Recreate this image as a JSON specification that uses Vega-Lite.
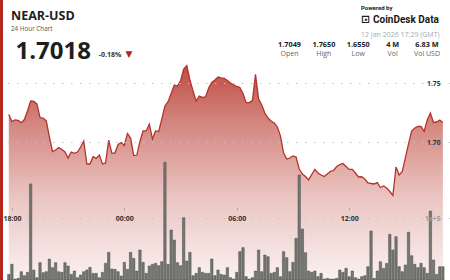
{
  "$schema": "https://vega.github.io/schema/vega-lite/v6.json",
  "width": 447,
  "height": 280,
  "autosize": {"type": "none"},
  "padding": {"left": 3, "top": 0, "right": 0, "bottom": 0},
  "background": "#b3261e",
  "config": {"view": {"fill": "white", "stroke": null}, "font": "Open Sans"},
  "title": {
    "text": "NEAR-USD",
    "subtitle": "24 Hour Chart",
    "anchor": "start",
    "frame": "group",
    "orient": "top",
    "offset": -32.2,
    "dx": 8,
    "font": "Open Sans",
    "fontSize": 12.5,
    "fontWeight": "bold",
    "color": "#1e1e1e",
    "subtitleFont": "Open Sans",
    "subtitleFontSize": 6.3,
    "subtitleColor": "#555555",
    "subtitlePadding": 3
  },
  "datasets": {
    "series": [
      {"t":"2026-01-11T17:50","price":1.7236,"volume":9200},
      {"t":"2026-01-11T18:00","price":1.7176,"volume":25500},
      {"t":"2026-01-11T18:10","price":1.7189,"volume":1500},
      {"t":"2026-01-11T18:20","price":1.7185,"volume":2700},
      {"t":"2026-01-11T18:30","price":1.7166,"volume":13500},
      {"t":"2026-01-11T18:40","price":1.7193,"volume":7000},
      {"t":"2026-01-11T18:50","price":1.7265,"volume":12500},
      {"t":"2026-01-11T19:00","price":1.7350,"volume":156100},
      {"t":"2026-01-11T19:10","price":1.7346,"volume":16300},
      {"t":"2026-01-11T19:20","price":1.7325,"volume":3800},
      {"t":"2026-01-11T19:30","price":1.7210,"volume":28200},
      {"t":"2026-01-11T19:40","price":1.7206,"volume":11900},
      {"t":"2026-01-11T19:50","price":1.7181,"volume":13500},
      {"t":"2026-01-11T20:00","price":1.7045,"volume":34100},
      {"t":"2026-01-11T20:10","price":1.6922,"volume":20100},
      {"t":"2026-01-11T20:20","price":1.6935,"volume":28200},
      {"t":"2026-01-11T20:30","price":1.6956,"volume":13500},
      {"t":"2026-01-11T20:40","price":1.6939,"volume":12500},
      {"t":"2026-01-11T20:50","price":1.6918,"volume":28200},
      {"t":"2026-01-11T21:00","price":1.6867,"volume":22800},
      {"t":"2026-01-11T21:10","price":1.6918,"volume":9200},
      {"t":"2026-01-11T21:20","price":1.6907,"volume":14600},
      {"t":"2026-01-11T21:30","price":1.6918,"volume":3800},
      {"t":"2026-01-11T21:40","price":1.6960,"volume":8100},
      {"t":"2026-01-11T21:50","price":1.7011,"volume":13500},
      {"t":"2026-01-11T22:00","price":1.6816,"volume":16300},
      {"t":"2026-01-11T22:10","price":1.6816,"volume":20600},
      {"t":"2026-01-11T22:20","price":1.6878,"volume":10800},
      {"t":"2026-01-11T22:30","price":1.6864,"volume":10800},
      {"t":"2026-01-11T22:40","price":1.6892,"volume":3800},
      {"t":"2026-01-11T22:50","price":1.6816,"volume":12500},
      {"t":"2026-01-11T23:00","price":1.6825,"volume":27100},
      {"t":"2026-01-11T23:10","price":1.7019,"volume":45000},
      {"t":"2026-01-11T23:20","price":1.6909,"volume":17900},
      {"t":"2026-01-11T23:30","price":1.6909,"volume":17300},
      {"t":"2026-01-11T23:40","price":1.6981,"volume":13500},
      {"t":"2026-01-11T23:50","price":1.6998,"volume":6500},
      {"t":"2026-01-12T00:00","price":1.6973,"volume":28700},
      {"t":"2026-01-12T00:10","price":1.7075,"volume":17300},
      {"t":"2026-01-12T00:20","price":1.7036,"volume":45000},
      {"t":"2026-01-12T00:30","price":1.6888,"volume":35200},
      {"t":"2026-01-12T00:40","price":1.6892,"volume":14600},
      {"t":"2026-01-12T00:50","price":1.7007,"volume":48800},
      {"t":"2026-01-12T01:00","price":1.7096,"volume":28700},
      {"t":"2026-01-12T01:10","price":1.7096,"volume":10800},
      {"t":"2026-01-12T01:20","price":1.7155,"volume":22800},
      {"t":"2026-01-12T01:30","price":1.7028,"volume":25500},
      {"t":"2026-01-12T01:40","price":1.7096,"volume":27100},
      {"t":"2026-01-12T01:50","price":1.7092,"volume":23300},
      {"t":"2026-01-12T02:00","price":1.7197,"volume":29800},
      {"t":"2026-01-12T02:10","price":1.7308,"volume":191300},
      {"t":"2026-01-12T02:20","price":1.7344,"volume":25500},
      {"t":"2026-01-12T02:30","price":1.7414,"volume":81300},
      {"t":"2026-01-12T02:40","price":1.7486,"volume":65000},
      {"t":"2026-01-12T02:50","price":1.7477,"volume":28200},
      {"t":"2026-01-12T03:00","price":1.7520,"volume":23300},
      {"t":"2026-01-12T03:10","price":1.7621,"volume":101300},
      {"t":"2026-01-12T03:20","price":1.7650,"volume":30900},
      {"t":"2026-01-12T03:30","price":1.7528,"volume":45000},
      {"t":"2026-01-12T03:40","price":1.7435,"volume":7000},
      {"t":"2026-01-12T03:50","price":1.7350,"volume":10800},
      {"t":"2026-01-12T04:00","price":1.7392,"volume":20100},
      {"t":"2026-01-12T04:10","price":1.7380,"volume":12500},
      {"t":"2026-01-12T04:20","price":1.7384,"volume":10800},
      {"t":"2026-01-12T04:30","price":1.7460,"volume":10800},
      {"t":"2026-01-12T04:40","price":1.7507,"volume":34100},
      {"t":"2026-01-12T04:50","price":1.7528,"volume":7000},
      {"t":"2026-01-12T05:00","price":1.7553,"volume":16300},
      {"t":"2026-01-12T05:10","price":1.7545,"volume":9200},
      {"t":"2026-01-12T05:20","price":1.7541,"volume":8100},
      {"t":"2026-01-12T05:30","price":1.7524,"volume":20100},
      {"t":"2026-01-12T05:40","price":1.7503,"volume":3800},
      {"t":"2026-01-12T05:50","price":1.7486,"volume":1600},
      {"t":"2026-01-12T06:00","price":1.7473,"volume":12500},
      {"t":"2026-01-12T06:10","price":1.7464,"volume":46100},
      {"t":"2026-01-12T06:20","price":1.7414,"volume":52600},
      {"t":"2026-01-12T06:30","price":1.7336,"volume":5400},
      {"t":"2026-01-12T06:40","price":1.7337,"volume":1600},
      {"t":"2026-01-12T06:50","price":1.7354,"volume":3800},
      {"t":"2026-01-12T07:00","price":1.7575,"volume":14600},
      {"t":"2026-01-12T07:10","price":1.7367,"volume":48800},
      {"t":"2026-01-12T07:20","price":1.7316,"volume":13500},
      {"t":"2026-01-12T07:30","price":1.7248,"volume":40700},
      {"t":"2026-01-12T07:40","price":1.7206,"volume":37900},
      {"t":"2026-01-12T07:50","price":1.7181,"volume":10800},
      {"t":"2026-01-12T08:00","price":1.7164,"volume":12500},
      {"t":"2026-01-12T08:10","price":1.7130,"volume":20100},
      {"t":"2026-01-12T08:20","price":1.7053,"volume":5400},
      {"t":"2026-01-12T08:30","price":1.6909,"volume":46100},
      {"t":"2026-01-12T08:40","price":1.6858,"volume":36300},
      {"t":"2026-01-12T08:50","price":1.6867,"volume":13500},
      {"t":"2026-01-12T09:00","price":1.6884,"volume":28700},
      {"t":"2026-01-12T09:10","price":1.6875,"volume":67800},
      {"t":"2026-01-12T09:20","price":1.6774,"volume":170700},
      {"t":"2026-01-12T09:30","price":1.6731,"volume":82900},
      {"t":"2026-01-12T09:40","price":1.6710,"volume":44400},
      {"t":"2026-01-12T09:50","price":1.6681,"volume":14600},
      {"t":"2026-01-12T10:00","price":1.6727,"volume":12500},
      {"t":"2026-01-12T10:10","price":1.6770,"volume":14600},
      {"t":"2026-01-12T10:20","price":1.6740,"volume":5400},
      {"t":"2026-01-12T10:30","price":1.6723,"volume":10800},
      {"t":"2026-01-12T10:40","price":1.6710,"volume":1600},
      {"t":"2026-01-12T10:50","price":1.6731,"volume":2700},
      {"t":"2026-01-12T11:00","price":1.6753,"volume":1600},
      {"t":"2026-01-12T11:10","price":1.6761,"volume":1600},
      {"t":"2026-01-12T11:20","price":1.6795,"volume":2700},
      {"t":"2026-01-12T11:30","price":1.6812,"volume":16300},
      {"t":"2026-01-12T11:40","price":1.6820,"volume":12500},
      {"t":"2026-01-12T11:50","price":1.6795,"volume":19000},
      {"t":"2026-01-12T12:00","price":1.6770,"volume":5400},
      {"t":"2026-01-12T12:10","price":1.6770,"volume":14600},
      {"t":"2026-01-12T12:20","price":1.6740,"volume":3800},
      {"t":"2026-01-12T12:30","price":1.6706,"volume":1600},
      {"t":"2026-01-12T12:40","price":1.6708,"volume":5400},
      {"t":"2026-01-12T12:50","price":1.6689,"volume":7000},
      {"t":"2026-01-12T13:00","price":1.6655,"volume":21700},
      {"t":"2026-01-12T13:10","price":1.6651,"volume":79700},
      {"t":"2026-01-12T13:20","price":1.6647,"volume":2700},
      {"t":"2026-01-12T13:30","price":1.6659,"volume":14600},
      {"t":"2026-01-12T13:40","price":1.6617,"volume":29800},
      {"t":"2026-01-12T13:50","price":1.6630,"volume":19000},
      {"t":"2026-01-12T14:00","price":1.6613,"volume":27100},
      {"t":"2026-01-12T14:10","price":1.6583,"volume":74300},
      {"t":"2026-01-12T14:20","price":1.6550,"volume":48800},
      {"t":"2026-01-12T14:30","price":1.6791,"volume":70400},
      {"t":"2026-01-12T14:40","price":1.6723,"volume":21700},
      {"t":"2026-01-12T14:50","price":1.6753,"volume":13500},
      {"t":"2026-01-12T15:00","price":1.6871,"volume":24400},
      {"t":"2026-01-12T15:10","price":1.6986,"volume":77600},
      {"t":"2026-01-12T15:20","price":1.7096,"volume":39500},
      {"t":"2026-01-12T15:30","price":1.7121,"volume":25500},
      {"t":"2026-01-12T15:40","price":1.7134,"volume":20100},
      {"t":"2026-01-12T15:50","price":1.7134,"volume":27100},
      {"t":"2026-01-12T16:00","price":1.7092,"volume":20100},
      {"t":"2026-01-12T16:10","price":1.7189,"volume":10800},
      {"t":"2026-01-12T16:20","price":1.7248,"volume":112000},
      {"t":"2026-01-12T16:30","price":1.7168,"volume":32500},
      {"t":"2026-01-12T16:40","price":1.7172,"volume":9200},
      {"t":"2026-01-12T16:50","price":1.7189,"volume":21700},
      {"t":"2026-01-12T17:00","price":1.7168,"volume":21700}
    ],
    "stats": [
      {"stat": "Open", "value": "1.7049"},
      {"stat": "High", "value": "1.7650"},
      {"stat": "Low", "value": "1.6550"},
      {"stat": "Vol", "value": "4 M"},
      {"stat": "Vol USD", "value": "6.83 M"}
    ],
    "quote": [
      {"last": "1.7018", "change": "-0.18%", "direction": "▼", "source": "CoinDesk Data", "asof": "12 Jan 2026 17:29 (GMT)"}
    ]
  },
  "layer": [
    {
      "data": {"name": "series"},
      "layer": [
        {
          "layer": [
            {
              "mark": {
                "type": "area",
                "interpolate": "linear",
                "fill": {
                  "gradient": "linear",
                  "x1": 0, "y1": 0, "x2": 0, "y2": 1,
                  "stops": [
                    {"offset": 0, "color": "#bf4d46"},
                    {"offset": 0.3, "color": "#d68c86"},
                    {"offset": 0.62, "color": "#ebc6c3"},
                    {"offset": 1, "color": "#faf1f0"}
                  ]
                }
              },
              "encoding": {
                "x": {
                  "field": "t",
                  "type": "temporal",
                  "scale": {"domain": [
                    {"year": 2026, "month": 1, "date": 11, "hours": 17, "minutes": 47, "seconds": 30},
                    {"year": 2026, "month": 1, "date": 12, "hours": 17, "minutes": 6, "seconds": 48}
                  ]},
                  "axis": {
                    "orient": "bottom",
                    "offset": -72,
                    "format": "%H:%M",
                    "values": [
                      {"year": 2026, "month": 1, "date": 11, "hours": 18},
                      {"year": 2026, "month": 1, "date": 12, "hours": 0},
                      {"year": 2026, "month": 1, "date": 12, "hours": 6},
                      {"year": 2026, "month": 1, "date": 12, "hours": 12}
                    ],
                    "domain": false,
                    "grid": false,
                    "ticks": true,
                    "tickSize": 2,
                    "tickColor": "#999999",
                    "labelFont": "Open Sans",
                    "labelFontSize": 7,
                    "labelFontWeight": "bold",
                    "labelColor": "#333333",
                    "labelPadding": 4,
                    "labelFlush": false,
                    "labelOverlap": false,
                    "title": null,
                    "zindex": 1
                  }
                },
                "y": {
                  "field": "price",
                  "type": "quantitative",
                  "scale": {"domain": [1.58331, 1.82059], "zero": false, "nice": false},
                  "axis": {
                    "orient": "right",
                    "values": [1.70, 1.75],
                    "format": ".2f",
                    "grid": true,
                    "gridColor": "#c4c4c4",
                    "gridDash": [1.5, 7.5],
                    "gridWidth": 1,
                    "domain": false,
                    "ticks": false,
                    "tickSize": 0,
                    "labelAlign": "right",
                    "labelBaseline": "middle",
                    "labelPadding": -10,
                    "labelFont": "Open Sans",
                    "labelFontSize": 6.7,
                    "labelFontWeight": "bold",
                    "labelColor": "#333333",
                    "title": null,
                    "zindex": 1
                  }
                },
                "y2": {"datum": 1.58331}
              }
            },
            {
              "mark": {"type": "line", "color": "#b3342b", "strokeWidth": 1.3, "interpolate": "linear"},
              "encoding": {
                "x": {"field": "t", "type": "temporal"},
                "y": {"field": "price", "type": "quantitative"}
              }
            }
          ]
        },
        {
          "mark": {"type": "bar", "width": 2.4, "fill": "#737772", "stroke": "#4a4d4a", "strokeWidth": 0.5},
          "encoding": {
            "x": {"field": "t", "type": "temporal"},
            "y": {
              "field": "volume",
              "type": "quantitative",
              "scale": {"domain": [0, 455000], "nice": false},
              "axis": {
                "orient": "right",
                "values": [100000],
                "format": ",",
                "grid": true,
                "gridColor": "#c4c4c4",
                "gridDash": [1.5, 7.5],
                "gridWidth": 1,
                "domain": false,
                "ticks": false,
                "tickSize": 0,
                "labelAlign": "right",
                "labelBaseline": "middle",
                "labelPadding": -10,
                "labelFont": "Open Sans",
                "labelFontSize": 6.7,
                "labelFontWeight": "bold",
                "labelColor": "#9a9a9a",
                "title": null,
                "zindex": 1
              }
            }
          }
        }
      ],
      "resolve": {"scale": {"y": "independent"}}
    },
    {
      "data": {"name": "quote"},
      "layer": [
        {
          "mark": {"type": "text", "align": "right", "baseline": "alphabetic", "font": "Open Sans", "fontSize": 24, "fontWeight": "bold", "color": "#1e1e1e"},
          "encoding": {
            "text": {"field": "last"},
            "x": {"datum": "last", "type": "nominal", "scale": {"type": "point", "domain": ["last", "change", "direction"], "range": [88, 126], "padding": 0}, "axis": null},
            "y": {"datum": "last", "type": "nominal", "scale": {"type": "point", "domain": ["last", "change"], "range": [58.5, 57], "padding": 0}, "axis": null}
          }
        },
        {
          "mark": {"type": "text", "align": "center", "baseline": "alphabetic", "font": "Open Sans", "fontSize": 7, "fontWeight": "bold", "color": "#333333"},
          "encoding": {
            "text": {"field": "change"},
            "x": {"datum": "change", "type": "nominal"},
            "y": {"datum": "change", "type": "nominal"}
          }
        },
        {
          "mark": {"type": "text", "align": "center", "baseline": "alphabetic", "font": "DejaVu Sans", "fontSize": 9, "color": "#b3261e"},
          "encoding": {
            "text": {"field": "direction"},
            "x": {"datum": "direction", "type": "nominal"},
            "y": {"datum": "change", "type": "nominal"}
          }
        }
      ]
    },
    {
      "data": {"name": "stats"},
      "layer": [
        {
          "mark": {"type": "text", "align": "center", "baseline": "alphabetic", "font": "Open Sans", "fontSize": 7.3, "fontWeight": "bold", "color": "#222222"},
          "encoding": {
            "text": {"field": "value"},
            "x": {"field": "stat", "type": "nominal", "sort": null, "scale": {"type": "point", "domain": ["Open", "High", "Low", "Vol", "Vol USD"], "range": [286.5, 424], "padding": 0}, "axis": null},
            "y": {"datum": "value", "type": "nominal", "scale": {"type": "point", "domain": ["value", "label"], "range": [47.3, 56.3], "padding": 0}, "axis": null}
          }
        },
        {
          "mark": {"type": "text", "align": "center", "baseline": "alphabetic", "font": "Open Sans", "fontSize": 7, "color": "#666666"},
          "encoding": {
            "text": {"field": "stat"},
            "x": {"field": "stat", "type": "nominal", "sort": null},
            "y": {"datum": "label", "type": "nominal"}
          }
        }
      ]
    },
    {
      "data": {"name": "quote"},
      "layer": [
        {
          "mark": {"type": "text", "text": "Powered by", "align": "left", "baseline": "alphabetic", "font": "Roboto", "fontSize": 6, "fontWeight": "bold", "color": "#222222"},
          "encoding": {
            "x": {"datum": "icon", "type": "nominal", "scale": {"type": "point", "domain": ["icon", "source"], "range": [358, 370], "padding": 0}, "axis": null},
            "y": {"datum": "by", "type": "nominal", "scale": {"type": "point", "domain": ["by", "source", "asof"], "range": [9.6, 36.8], "padding": 0}, "axis": null}
          }
        },
        {
          "mark": {"type": "text", "text": "⊡", "align": "left", "baseline": "alphabetic", "font": "DejaVu Sans", "fontSize": 11, "fontWeight": "bold", "color": "#222222"},
          "encoding": {
            "x": {"datum": "icon", "type": "nominal"},
            "y": {"datum": "source", "type": "nominal"}
          }
        },
        {
          "mark": {"type": "text", "align": "left", "baseline": "alphabetic", "font": "Roboto", "fontSize": 10, "fontWeight": "bold", "color": "#1a1a1a"},
          "encoding": {
            "text": {"field": "source"},
            "x": {"datum": "source", "type": "nominal"},
            "y": {"datum": "source", "type": "nominal"}
          }
        },
        {
          "mark": {"type": "text", "align": "left", "baseline": "alphabetic", "font": "Open Sans", "fontSize": 7, "color": "#aaaaaa"},
          "encoding": {
            "text": {"field": "asof"},
            "x": {"datum": "icon", "type": "nominal"},
            "y": {"datum": "asof", "type": "nominal"}
          }
        }
      ]
    }
  ],
  "resolve": {"scale": {"x": "independent", "y": "independent"}}
}
